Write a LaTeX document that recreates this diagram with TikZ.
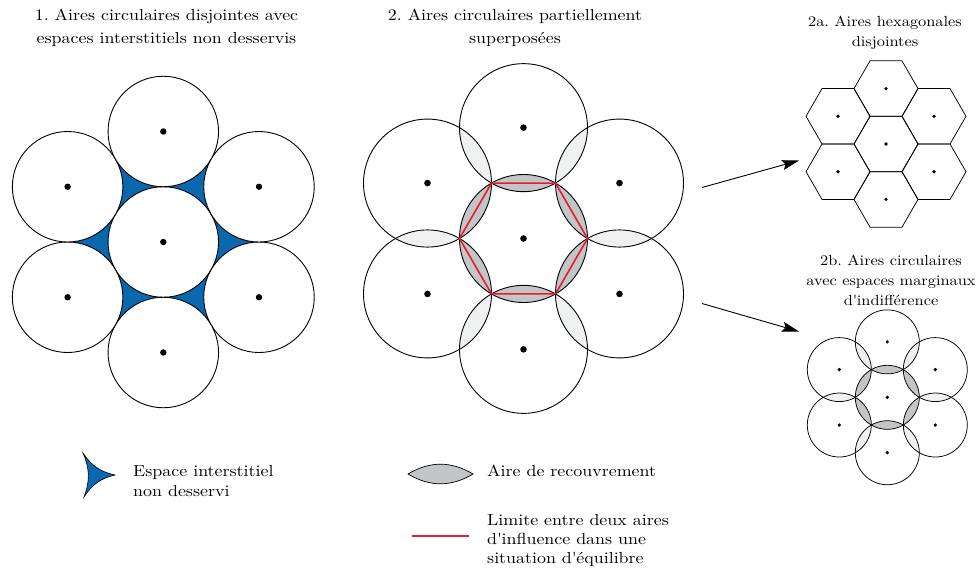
\documentclass[tikz,border=0pt]{standalone}
\usepackage{fontspec}
\setmainfont{lmroman10-regular.otf}[FakeStretch=1.12]
\usetikzlibrary{arrows.meta}
\definecolor{blueint}{RGB}{10,104,174}
\definecolor{lensdark}{RGB}{196,197,199}
\definecolor{lenslight}{RGB}{239,240,240}
\definecolor{limred}{RGB}{228,30,48}
\frenchspacing
\begin{document}
\begin{tikzpicture}[x=1pt,y=-1pt,
  circ/.style={draw=black, line width=0.9pt},
  smallcirc/.style={draw=black, line width=0.75pt},
  hexline/.style={draw=black, line width=0.75pt, line join=miter},
  bigdot/.style={fill=black},
  redline/.style={draw=limred, line width=1.6pt, line join=miter},
  conn/.style={draw=black, line width=0.9pt, -{Stealth[length=17pt,width=10pt,inset=3pt]}},
  ttl/.style={font=\fontsize{16}{23}\selectfont, align=center, inner sep=0pt},
  ttlsmall/.style={font=\fontsize{14.6}{20}\selectfont, align=center, inner sep=0pt},
  legtext/.style={font=\fontsize{16}{19.5}\selectfont, align=left, inner sep=0pt, anchor=west}]
\useasboundingbox (0,0) rectangle (980,571);

% ---------- Diagram 1 ----------
\def\dA{110.5}
\def\rA{55.25}
\coordinate (c1) at (163.3,242);
\foreach \i/\a in {1/30,2/90,3/150,4/210,5/270,6/330}
  \path (c1) ++(\a:\dA) coordinate (p\i);
\fill[blueint] (p1) -- (p2) -- (p3) -- (p4) -- (p5) -- (p6) -- cycle;
\draw[circ, fill=white] (c1) circle (\rA);
\foreach \i in {1,...,6} \draw[circ, fill=white] (p\i) circle (\rA);
\fill[bigdot] (c1) circle (3.2);
\foreach \i in {1,...,6} \fill[bigdot] (p\i) circle (3.2);

% ---------- Diagram 2 ----------
\def\dB{110.85}
\def\rB{64}
\coordinate (c2) at (523.5,238.5);
\foreach \i/\a in {1/30,2/90,3/150,4/210,5/270,6/330}
  \path (c2) ++(\a:\dB) coordinate (q\i);
\foreach \i in {1,...,6} {
  \begin{scope}
    \clip (c2) circle (\rB);
    \fill[lensdark] (q\i) circle (\rB);
  \end{scope}
}
\foreach \i/\j in {1/2,2/3,3/4,4/5,5/6,6/1} {
  \begin{scope}
    \clip (q\i) circle (\rB);
    \fill[lenslight] (q\j) circle (\rB);
  \end{scope}
}
\draw[circ] (c2) circle (\rB);
\foreach \i in {1,...,6} \draw[circ] (q\i) circle (\rB);
\draw[redline] (c2) +(0:\rB) -- +(60:\rB) -- +(120:\rB) -- +(180:\rB) -- +(240:\rB) -- +(300:\rB) -- cycle;
\fill[bigdot] (c2) circle (3.3);
\foreach \i in {1,...,6} \fill[bigdot] (q\i) circle (3.3);

% ---------- Diagram 2a ----------
\def\dC{55.43}
\def\rC{32}
\coordinate (c3) at (886,144);
\foreach \i/\a in {1/30,2/90,3/150,4/210,5/270,6/330}
  \path (c3) ++(\a:\dC) coordinate (h\i);
\foreach \p in {c3,h1,h2,h3,h4,h5,h6} {
  \draw[hexline] (\p) +(0:\rC) -- +(60:\rC) -- +(120:\rC) -- +(180:\rC) -- +(240:\rC) -- +(300:\rC) -- cycle;
  \fill[bigdot] (\p) circle (1.8);
}

% ---------- Diagram 2b ----------
\coordinate (c4) at (887.3,397.3);
\foreach \i/\a in {1/30,2/90,3/150,4/210,5/270,6/330}
  \path (c4) ++(\a:\dC) coordinate (s\i);
\foreach \i in {1,...,6} {
  \begin{scope}
    \clip (c4) circle (\rC);
    \fill[lensdark] (s\i) circle (\rC);
  \end{scope}
}
\foreach \i/\j in {1/2,2/3,3/4,4/5,5/6,6/1} {
  \begin{scope}
    \clip (s\i) circle (\rC);
    \fill[lenslight] (s\j) circle (\rC);
  \end{scope}
}
\draw[smallcirc] (c4) circle (\rC);
\foreach \i in {1,...,6} \draw[smallcirc] (s\i) circle (\rC);
\fill[bigdot] (c4) circle (1.8);
\foreach \i in {1,...,6} \fill[bigdot] (s\i) circle (1.8);

% ---------- Arrows ----------
\coordinate (a1s) at (702,187.5);
\coordinate (a1e) at (799,160.5);
\coordinate (a2s) at (702,303.5);
\coordinate (a2e) at (799,331.5);
\draw[conn] (a1s) -- (a1e);
\draw[conn] (a2s) -- (a2e);

% ---------- Titles ----------
\node[ttl] (title1) at (166.5,27.9) {1. Aires circulaires disjointes avec\\espaces interstitiels non desservis};
\node[ttl] (title2) at (515,27.5) {2. Aires circulaires partiellement\\superposées};
\node[ttlsmall] (title2a) at (885,32.3) {2a. Aires hexagonales\\disjointes};
\node[ttlsmall] (title2b) at (891,280.3) {2b. Aires circulaires\\avec espaces marginaux\\d\textquotesingle indifférence};

% ---------- Legend ----------
\filldraw[fill=blueint, draw=black, line width=0.6pt] (83,453) to[bend right=22] (115,475) to[bend right=22] (84,497) to[bend right=22] cycle;
\node[legtext] (leg1) at (133,481) {Espace interstitiel\\non desservi};
\filldraw[fill=lensdark, draw=black, line width=0.7pt] (408,474) to[bend left=31] (473,474) to[bend left=31] cycle;
\node[legtext] (leg2) at (487,471) {Aire de recouvrement};
\coordinate (rl1) at (412,536);
\coordinate (rl2) at (469,536);
\draw[redline] (rl1) -- (rl2);
\node[legtext, font=\fontsize{16}{19.2}\selectfont] (leg3) at (487,540.4) {Limite entre deux aires\\d\textquotesingle influence dans une\\situation d\textquotesingle équilibre};
\end{tikzpicture}
\end{document}
